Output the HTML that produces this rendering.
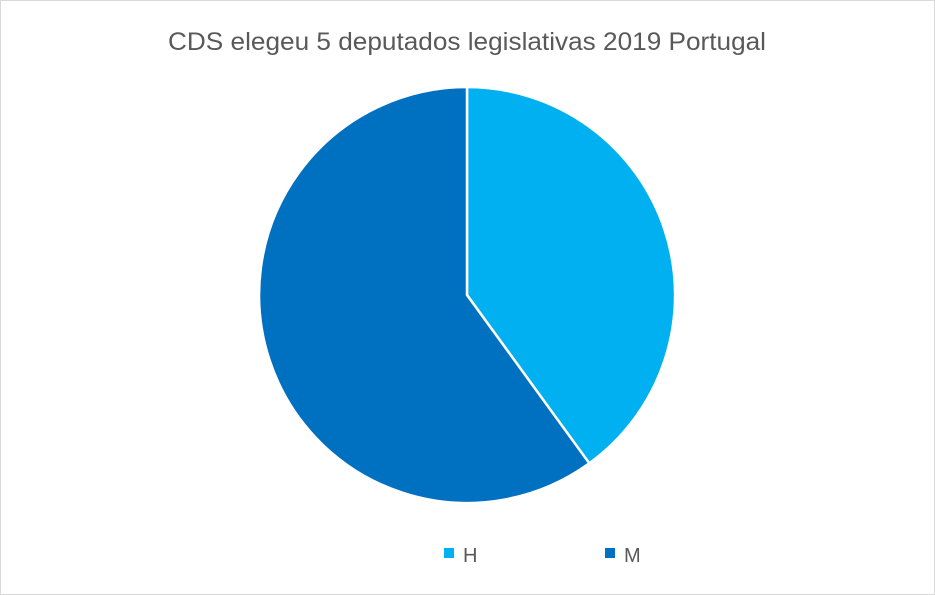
<!DOCTYPE html>
<html><head><meta charset="utf-8"><style>
html,body{margin:0;padding:0;background:#fff;}
</style></head><body>
<svg width="935" height="595" xmlns="http://www.w3.org/2000/svg" style="display:block">
<rect x="0.5" y="0.5" width="934" height="594" fill="#fff" stroke="#d9d9d9"/>
<text x="168" y="50" textLength="598" lengthAdjust="spacingAndGlyphs" font-family="Liberation Sans, sans-serif" font-size="25" fill="#595959">CDS elegeu 5 deputados legislativas 2019 Portugal</text>
<path d="M467,295 L467,87 A208,208 0 0 1 589.3,463.3 Z" fill="#00B0F0" stroke="#fff" stroke-width="2.5"/>
<path d="M467,295 L589.3,463.3 A208,208 0 1 1 467,87 Z" fill="#0070C0" stroke="#fff" stroke-width="2.5"/>
<rect x="444" y="548" width="10" height="10" fill="#00B0F0"/>
<text x="463" y="562" font-family="Liberation Sans, sans-serif" font-size="20" fill="#595959">H</text>
<rect x="605" y="548" width="10" height="10" fill="#0070C0"/>
<text x="624" y="562" font-family="Liberation Sans, sans-serif" font-size="20" fill="#595959">M</text>
</svg>
</body></html>
